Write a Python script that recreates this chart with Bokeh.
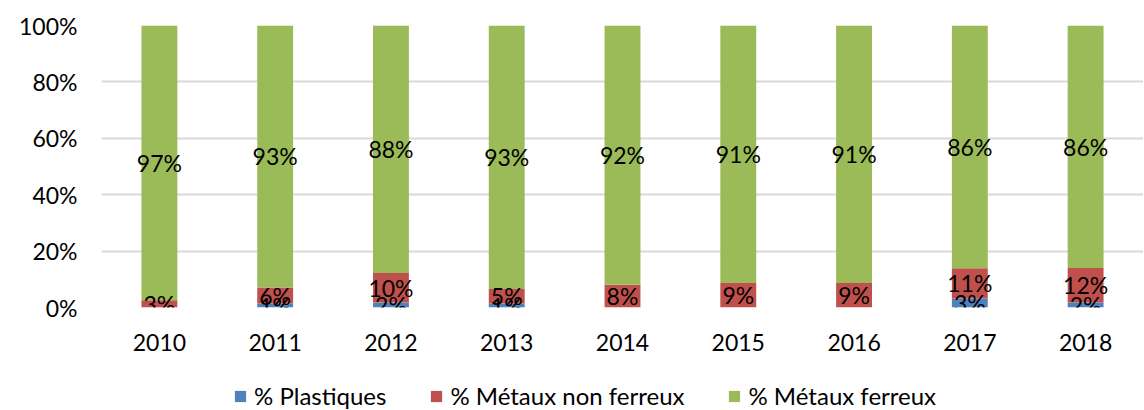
from bokeh.plotting import figure
from bokeh.layouts import column
from bokeh.models import ColumnDataSource, Range1d, Legend, LegendItem, PrintfTickFormatter, FactorRange
from bokeh.core.properties import value
from bokeh.embed import file_html
from bokeh.resources import INLINE

years = ["2010", "2011", "2012", "2013", "2014", "2015", "2016", "2017", "2018"]
plastiques = [0.0, 1.4, 1.8, 1.4, 0.0, 0.0, 0.0, 3.2, 1.8]
non_ferreux = [2.6, 5.7, 10.4, 5.2, 8.1, 8.7, 8.7, 10.7, 12.2]
ferreux = [97.4, 92.9, 87.8, 93.4, 91.9, 91.3, 91.3, 86.1, 86.0]
series_names = ["% Plastiques", "% Métaux non ferreux", "% Métaux ferreux"]
colors = ["#4F81BD", "#C0504D", "#9BBB59"]
y_ticks = [0, 20, 40, 60, 80, 100]

FONT = "Lato"
FS = "23px"

src = ColumnDataSource(dict(years=years, plast=plastiques, nonf=non_ferreux, fer=ferreux))

p = figure(x_range=FactorRange(*years), y_range=Range1d(0, 100),
           frame_width=1042, frame_height=282, output_backend="svg", toolbar_location=None,
           min_border_left=101, min_border_right=0, min_border_top=25, min_border_bottom=48)

rs = p.vbar_stack(["plast", "nonf", "fer"], x="years", width=0.31, source=src,
                  color=colors, line_color=None)

# data labels at segment centres
lx, ly, lt = [], [], []
for i, yr in enumerate(years):
    base = 0.0
    for vals in (plastiques, non_ferreux, ferreux):
        v = vals[i]
        if v > 0:
            lx.append(yr)
            ly.append(base + v / 2)
            lt.append(f"{round(v)}%")
        base += v
p.text(x=lx, y=ly, text=lt, text_font=value(FONT), text_font_size=FS,
       text_align="center", text_baseline="middle", text_color="#000000")

p.outline_line_color = None
p.xgrid.grid_line_color = None
p.ygrid.grid_line_color = "#D9D9D9"
p.ygrid.grid_line_width = 2
p.yaxis.ticker = y_ticks
p.yaxis.formatter = PrintfTickFormatter(format="%d%%")
for ax in (p.xaxis, p.yaxis):
    ax.axis_line_color = None
    ax.major_tick_line_color = None
    ax.minor_tick_line_color = None
    ax.major_label_text_font = FONT
    ax.major_label_text_font_size = FS
    ax.major_label_text_color = "#000000"
p.yaxis.major_label_standoff = 18
p.xaxis.major_label_standoff = 20
p.x_range.range_padding = 0
p.x_range.group_padding = 0

# legend strip below the chart (its frame is aligned with the chart's frame)
p2 = figure(width=1143, height=55, output_backend="svg", toolbar_location=None,
            x_range=Range1d(0, 1), y_range=Range1d(0, 1),
            min_border_left=0, min_border_right=0, min_border_top=0, min_border_bottom=0)
p2.axis.visible = False
p2.grid.visible = False
p2.outline_line_color = None
# one off-screen dummy box per series so that the legend swatches are drawn
dummy = ColumnDataSource(dict(left=[-10.0], right=[-9.0], bottom=[-10.0], top=[-9.0]))
legend_renderers = [p2.quad(left="left", right="right", bottom="bottom", top="top",
                            source=dummy, fill_color=c, line_color=None)
                    for c in colors]
items = [LegendItem(label=n, renderers=[r]) for n, r in zip(series_names, legend_renderers)]
legend = Legend(items=items, orientation="horizontal", location=(132, 0),
                border_line_color=None, background_fill_alpha=0,
                glyph_width=14, glyph_height=14, label_standoff=7, spacing=43,
                padding=0, margin=0,
                label_text_font=FONT, label_text_font_size="24px", label_text_color="#000000")
p2.add_layout(legend, "center")

layout = column(p, p2, spacing=0)
open("out.html", "w").write(file_html(layout, INLINE))
